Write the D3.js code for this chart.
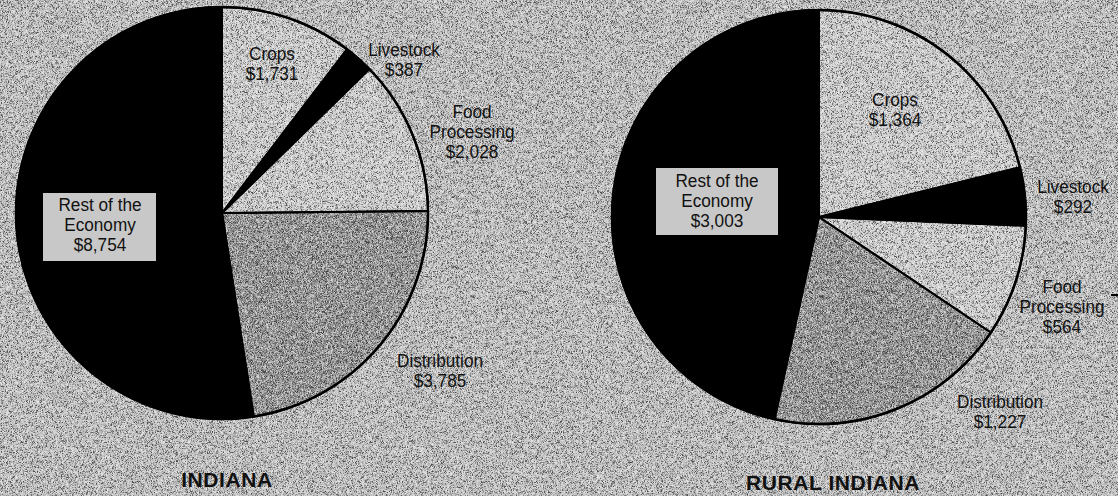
<!DOCTYPE html>
<html>
<head>
<meta charset="utf-8">
<script src="https://cdn.jsdelivr.net/npm/d3@7/dist/d3.min.js"></script>
<style>
  html, body { margin: 0; padding: 0; background: #b8b8b8; }
  svg { display: block; }
  text { font-family: "Liberation Sans", Arial, sans-serif; }
</style>
</head>
<body>
<svg id="chart" width="1118" height="496"></svg>
<script>
// ---------- data ----------
const categories   = ["Crops", "Livestock", "Food Processing", "Distribution", "Rest of the Economy"];
const labelLines   = [["Crops"], ["Livestock"], ["Food", "Processing"], ["Distribution"], ["Rest of the", "Economy"]];
const indianaValues = [1731, 387, 2028, 3785, 8754];
const ruralValues   = [1364, 292, 564, 1227, 3003];
const titles        = ["INDIANA", "RURAL INDIANA"];

// ---------- layout / style ----------
const W = 1118, H = 496;
const fills = { "Crops": "#c6c6c6", "Livestock": "#000000", "Food Processing": "#c6c6c6",
                "Distribution": "#8c8c8c", "Rest of the Economy": "#000000" };
const layout = [
  { cx: 222, cy: 213, r: 206, titleX: 227, titleY: 487,
    labels: { "Crops": [50, -153], "Livestock": [182, -157], "Food Processing": [250, -95],
              "Distribution": [218, 154], "Rest of the Economy": [-122, -2] },
    box: [-179, -20, 113, 68] },
  { cx: 819, cy: 217, r: 207, titleX: 833, titleY: 490,
    labels: { "Crops": [76, -111], "Livestock": [254, -24], "Food Processing": [243, 76],
              "Distribution": [181, 191], "Rest of the Economy": [-102, -30] },
    box: [-163, -49, 122, 67] }
];
const lineH = 20, fontSize = 18.5, squeeze = 0.93;
const fmt = d3.format(",");

const svg = d3.select("#chart");
const defs = svg.append("defs");
const f = defs.append("filter").attr("id", "grain")
  .attr("filterUnits", "userSpaceOnUse").attr("x", 0).attr("y", 0).attr("width", W).attr("height", H);
f.append("feTurbulence").attr("type", "fractalNoise").attr("baseFrequency", 2.2)
  .attr("numOctaves", 1).attr("seed", 11).attr("result", "n");
f.append("feColorMatrix").attr("in", "n").attr("type", "matrix")
  .attr("values", "0 0 0 0 0  0 0 0 0 0  0 0 0 0 0  -4.5 0 0 0 2.15").attr("result", "dark");
f.append("feColorMatrix").attr("in", "n").attr("type", "matrix")
  .attr("values", "0 0 0 0 1  0 0 0 0 1  0 0 0 0 1  4.5 0 0 0 -2.1").attr("result", "light");
const fm = f.append("feMerge");
fm.append("feMergeNode").attr("in", "dark");
fm.append("feMergeNode").attr("in", "light");

svg.append("rect").attr("width", W).attr("height", H).attr("fill", "#b8b8b8");

const pie = d3.pie().sort(null).value(d => d.value).startAngle(0).endAngle(2 * Math.PI);
const series = [indianaValues, ruralValues];

const pieLayer = svg.append("g");
const grainLayer = svg.append("g");
const inkLayer = svg.append("g");
const textLayer = svg.append("g");

series.forEach((vals, i) => {
  const L = layout[i];
  const data = categories.map((c, j) => ({ cat: c, value: vals[j], lines: labelLines[j] }));
  const arcs = pie(data);
  const arc = d3.arc().innerRadius(0).outerRadius(L.r);
  const g = pieLayer.append("g").attr("transform", `translate(${L.cx},${L.cy})`);
  g.selectAll("path").data(arcs).join("path")
    .attr("d", arc)
    .attr("fill", d => fills[d.data.cat]);

  // solid ink (black slices + outlines) drawn above the grain
  const ink = inkLayer.append("g").attr("transform", `translate(${L.cx},${L.cy})`);
  ink.selectAll("path").data(arcs).join("path")
    .attr("d", arc)
    .attr("fill", d => fills[d.data.cat] === "#000000" ? "#000" : "none")
    .attr("stroke", "#000").attr("stroke-width", 2).attr("stroke-linejoin", "round");
  ink.append("circle").attr("r", L.r).attr("fill", "none").attr("stroke", "#000").attr("stroke-width", 2.5);

  const b = L.box;
  ink.append("rect").attr("x", b[0]).attr("y", b[1]).attr("width", b[2]).attr("height", b[3])
    .attr("fill", "#c8c8c8");

  const tg = textLayer.append("g").attr("transform", `translate(${L.cx},${L.cy})`);
  arcs.forEach(a => {
    const pos = L.labels[a.data.cat];
    const lines = a.data.lines.concat(["$" + fmt(a.data.value)]);
    lines.forEach((ln, k) => {
      tg.append("text")
        .attr("transform", `translate(${pos[0]},${pos[1] + k * lineH}) scale(${squeeze},1)`)
        .attr("text-anchor", "middle").attr("font-size", fontSize).attr("fill", "#111")
        .text(ln);
    });
  });

  textLayer.append("text").attr("x", L.titleX).attr("y", L.titleY)
    .attr("text-anchor", "middle").attr("font-size", 21).attr("font-weight", "bold")
    .attr("letter-spacing", 0.6).attr("fill", "#111").text(titles[i]);
});

grainLayer.append("rect").attr("width", W).attr("height", H).attr("fill", "#fff")
  .attr("filter", "url(#grain)").attr("opacity", 0.6);

// small stray mark at right edge
textLayer.append("line").attr("x1", 1111).attr("x2", 1118).attr("y1", 295).attr("y2", 295)
  .attr("stroke", "#000").attr("stroke-width", 2);
</script>
</body>
</html>
